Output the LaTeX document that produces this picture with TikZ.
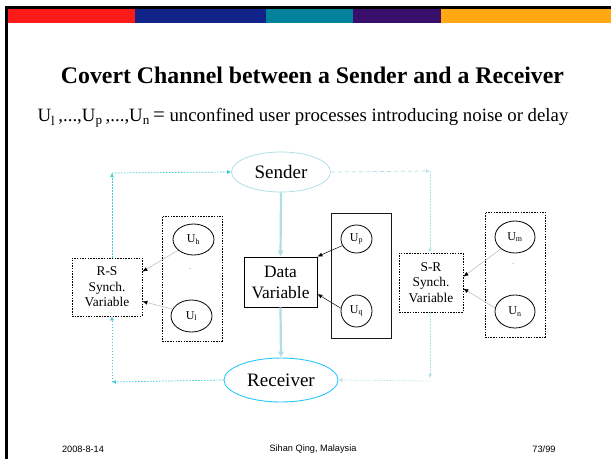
\documentclass[tikz,border=0pt]{standalone}
\usepackage{fontspec}
\setmainfont{Liberation Serif}
\newfontfamily\footfont{Liberation Sans}
\usetikzlibrary{shapes.geometric,arrows.meta}

\definecolor{barred}{RGB}{255,26,26}
\definecolor{barblue}{RGB}{16,36,138}
\definecolor{barteal}{RGB}{0,130,155}
\definecolor{barpurple}{RGB}{58,14,108}
\definecolor{barorange}{RGB}{255,168,20}
\definecolor{sendline}{RGB}{170,220,228}
\definecolor{recvline}{RGB}{40,200,250}
\definecolor{dotcyan}{RGB}{60,200,210}
\definecolor{palecyan}{RGB}{180,225,232}
\definecolor{flowcyan}{RGB}{175,222,230}

\tikzset{
  procbox/.style={draw, dash pattern=on 1.5pt off 1.2pt, line width=0.8pt, minimum width=#1},
  syncbox/.style={draw, dash pattern=on 1.5pt off 1.2pt, line width=0.8pt, align=center,
    font=\fontsize{13.4}{15.5}\selectfont, inner sep=0pt},
  uproc/.style={draw, ellipse, line width=0.8pt, inner sep=0pt, font=\fontsize{12}{12}\selectfont},
  tip/.style={-{Latex[length=5pt,width=4pt]}},
  feed/.style={gray!55, line width=0.5pt, -{Latex[length=5pt,width=4pt,color=black]}},
  rsline/.style={dotcyan, dash pattern=on 1.5pt off 1.5pt, line width=0.7pt, -{Latex[length=4pt,width=4pt]}},
  srline/.style={palecyan, dash pattern=on 1.5pt off 1.5pt, line width=0.7pt, -{Latex[length=4pt,width=4pt]}},
  flow/.style={flowcyan, line width=2.2pt, -{Latex[length=6pt,width=6.5pt]}},
  dots/.style={gray, font=\fontsize{6}{6}\selectfont, inner sep=0pt},
  foot/.style={font=\footfont\fontsize{9.2}{10}\selectfont},
}

\begin{document}
\begin{tikzpicture}[x=1pt,y=-1pt]
\useasboundingbox (0,0) rectangle (611,459);
\fill[white] (0,0) rectangle (611,459);

% frame and colour bar
\fill[black] (5,6) rectangle (611,9);
\fill[black] (5,6) rectangle (7.5,459);
\fill[barred]    (7.5,9) rectangle (135,23);
\fill[barblue]   (135,9) rectangle (266,23);
\fill[barteal]   (266,9) rectangle (353,23);
\fill[barpurple] (353,9) rectangle (441,23);
\fill[barorange] (441,9) rectangle (611,23);

% headings
\node[font=\bfseries\fontsize{23.8}{25}\selectfont] (title) at (312.5,75)
  {Covert Channel between a Sender and a Receiver};
\node[font=\fontsize{18.8}{20}\selectfont] (legend) at (303,118)
  {U\textsubscript{l}\,,...,U\textsubscript{p}\,,...,U\textsubscript{n}\,{\fontsize{21}{21}\selectfont =} unconfined user processes introducing noise or delay};

% main channel
\node[ellipse, draw=sendline, line width=0.7pt, minimum width=99pt, minimum height=40pt,
  inner sep=0pt, font=\fontsize{19}{20}\selectfont] (snd) at (281,172) {Sender};
\node[ellipse, draw=recvline, line width=0.9pt, minimum width=114pt, minimum height=44pt,
  inner sep=0pt, font=\fontsize{19}{20}\selectfont] (rcv) at (281,380) {Receiver};
\node[draw, line width=0.8pt, minimum width=73pt, minimum height=50pt, align=center,
  inner sep=0pt, font=\fontsize{17.4}{21}\selectfont] (dv) at (280.5,282) {Data\\Variable};

% processes p, q
\node[draw, gray!20!black, line width=1pt, minimum width=60pt, minimum height=125pt] (pq) at (361,275.5) {};
\node[uproc, minimum width=31pt, minimum height=28pt] (up) at (356.5,239) {U\textsubscript{p}};
\node[uproc, minimum width=31pt, minimum height=32pt] (uq) at (356.5,311) {U\textsubscript{q}};

% processes h, l
\node[procbox=60pt, minimum height=125pt] (hl) at (192,278.5) {};
\node[uproc, minimum width=41pt, minimum height=31pt] (uh) at (193.5,239.5) {U\textsubscript{h}};
\node[uproc, minimum width=41pt, minimum height=32pt] (ul) at (191.5,316) {U\textsubscript{l}};
\node[dots] (hldots) at (190,269) {..};

% processes m, n
\node[procbox=60pt, minimum height=125pt] (mn) at (515,274.5) {};
\node[uproc, minimum width=40pt, minimum height=32pt] (um) at (515,237) {U\textsubscript{m}};
\node[uproc, minimum width=40pt, minimum height=33pt] (un) at (515,311.5) {U\textsubscript{n}};
\node[dots] (mndots) at (513,264) {..};

% synchronisation variables
\node[syncbox, minimum width=70pt, minimum height=58pt] (rs) at (107,287) {R-S\\Synch.\\Variable};
\node[syncbox, minimum width=64pt, minimum height=59pt] (sr) at (431,282.5) {S-R\\Synch.\\Variable};

% helper points
\coordinate (rsTop)  at (112,173);
\coordinate (rsBot)  at (112,382);
\coordinate (srTop)  at (430,171);
\coordinate (srBot)  at (430,378);
\coordinate (srTurn) at (430,381);

% data flow
\draw[flow] (snd.south) -- (dv.north);
\draw[flow] (dv.south) -- (rcv.north);
\draw[tip, line width=0.5pt] (up.205) -- (dv.north east);
\draw[tip, line width=0.5pt] (uq.170) -- ([yshift=-12pt]dv.east);

% noise into the synch variables
\draw[feed] (uh.215) -- ([yshift=-14pt]rs.north east);
\draw[feed] (ul.160) -- ([yshift=15pt]rs.south east);
\draw[feed] (um.220) -- ([yshift=-24pt]sr.north east);
\draw[feed] (un.170) -- ([yshift=-36pt]sr.north east);

% receiver-to-sender synchronisation
\draw[rsline] (rs.north -| rsTop) -- (rsTop);
\draw[rsline] (rsTop) -- (snd.west);
\draw[rsline] (rcv.west) -- (rsBot);
\draw[rsline] (rsBot) -- (rs.south -| rsBot);

% sender-to-receiver synchronisation
\draw[srline, dash pattern=on 4pt off 3pt] (snd.east) -- (srTop);
\draw[srline] (srTop) -- (sr.north -| srTop);
\draw[srline] (sr.south -| srBot) -- (srBot);
\draw[srline] (srTurn) -- (rcv.east);

% footer
\node[foot] (fdate) at (83,449) {2008-8-14};
\node[foot] (fauth) at (313,449) {Sihan Qing, Malaysia};
\node[foot] (fpage) at (544,449) {73/99};
\end{tikzpicture}
\end{document}
